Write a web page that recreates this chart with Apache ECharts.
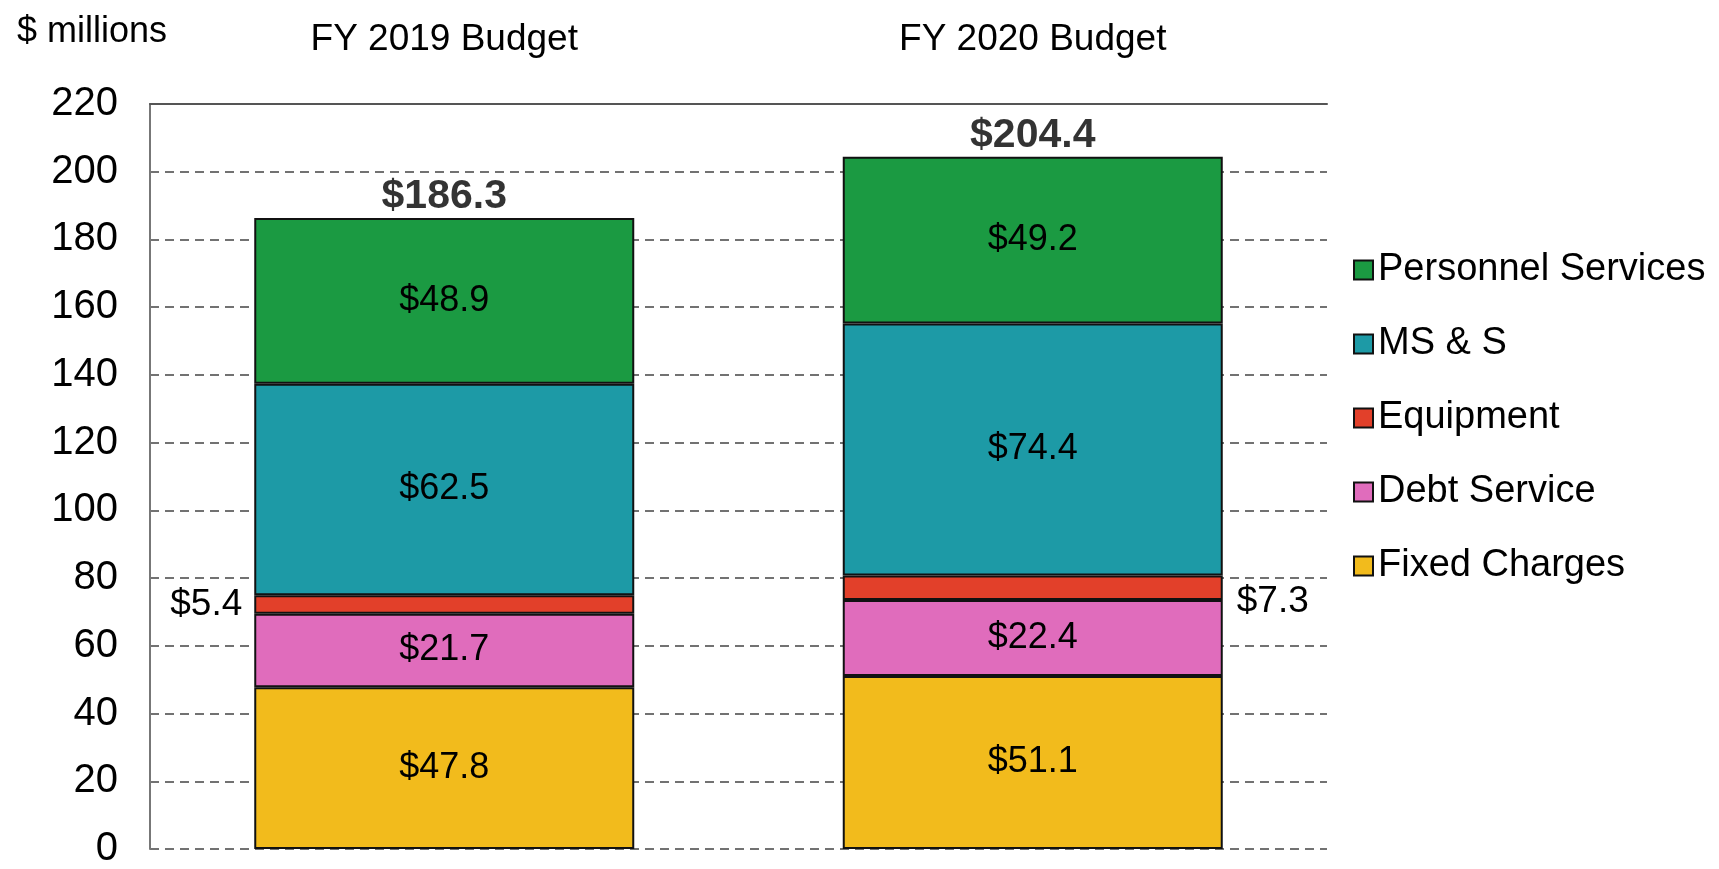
<!DOCTYPE html>
<html>
<head>
<meta charset="utf-8">
<script src="https://cdn.jsdelivr.net/npm/echarts@6/dist/echarts.min.js"></script>
<style>
    html, body {margin: 0; padding: 0; background: #fff;}
    #main {width: 1719px; height: 869px;}
</style>
</head>
<body>
<div id="main"></div>
<script>
    // 数据
    var years = ['FY 2019 Budget', 'FY 2020 Budget'];
    var fixedCharges = [47.8, 51.1];
    var debtService = [21.7, 22.4];
    var equipment = [5.4, 7.3];
    var msS = [62.5, 74.4];
    var personnel = [48.9, 49.2];
    var totals = [186.3, 204.4];
    var legendNames = ['Personnel Services', 'MS & S', 'Equipment', 'Debt Service', 'Fixed Charges'];

    var font = 'Liberation Sans, Arial, sans-serif';
    var money = function (p) {
        return '$' + p.value.toFixed(1);
    };

    function barSeries(name, data, color, label) {
        return {
            name: name,
            type: 'bar',
            stack: 'total',
            barWidth: 380,
            data: data,
            itemStyle: {color: color, borderColor: '#111', borderWidth: 2},
            label: label || {
                show: true,
                position: 'inside',
                formatter: money,
                color: '#000',
                fontFamily: font,
                fontSize: 36
            }
        };
    }

    var myChart = echarts.init(document.getElementById('main'));

    var option = {
        backgroundColor: '#fff',
        animation: false,
        title: {
            text: '$ millions',
            left: 12,
            top: 9,
            textStyle: {fontFamily: font, fontSize: 36, fontWeight: 'normal', color: '#000'}
        },
        legend: {
            data: legendNames,
            orient: 'vertical',
            left: 1348,
            top: 246,
            itemWidth: 19,
            itemHeight: 19,
            itemGap: 36,
            icon: 'rect',
            textStyle: {fontFamily: font, fontSize: 38, color: '#000'}
        },
        grid: {left: 150, right: 392, top: 104, bottom: 12},
        xAxis: {
            type: 'category',
            position: 'top',
            data: years,
            axisLine: {onZero: false, lineStyle: {color: '#555', width: 2}},
            axisTick: {show: false},
            axisLabel: {fontFamily: font, fontSize: 37, color: '#000', margin: 46}
        },
        yAxis: {
            type: 'value',
            min: 0,
            max: 220,
            interval: 20,
            axisLine: {show: true, lineStyle: {color: '#777', width: 2}},
            axisTick: {show: false},
            axisLabel: {fontFamily: font, fontSize: 40, color: '#000', margin: 32},
            splitLine: {lineStyle: {color: '#444', width: 1.5, type: [9, 6]}}
        },
        series: [
            barSeries('Fixed Charges', fixedCharges, '#f2bb1c'),
            barSeries('Debt Service', debtService, '#e06cbc'),
            barSeries('Equipment', equipment.map(function (v, i) {
                return {
                    value: v,
                    label: i === 0
                        ? {position: 'left', distance: 12}
                        : {position: 'right', distance: 14, offset: [0, 14]}
                };
            }), '#e2402a', {
                show: true,
                formatter: money,
                color: '#000',
                fontFamily: font,
                fontSize: 37
            }),
            barSeries('MS & S', msS, '#1d9aa6'),
            barSeries('Personnel Services', personnel, '#1b9a42'),
            {
                name: 'total',
                type: 'scatter',
                data: totals,
                symbolSize: 1,
                itemStyle: {color: 'rgba(0,0,0,0)'},
                label: {
                    show: true,
                    position: 'top',
                    distance: 0,
                    formatter: money,
                    color: '#000',
                    fontFamily: font,
                    fontSize: 41,
                    fontWeight: 'bold'
                }
            }
        ]
    };

    myChart.setOption(option);
</script>
</body>
</html>
